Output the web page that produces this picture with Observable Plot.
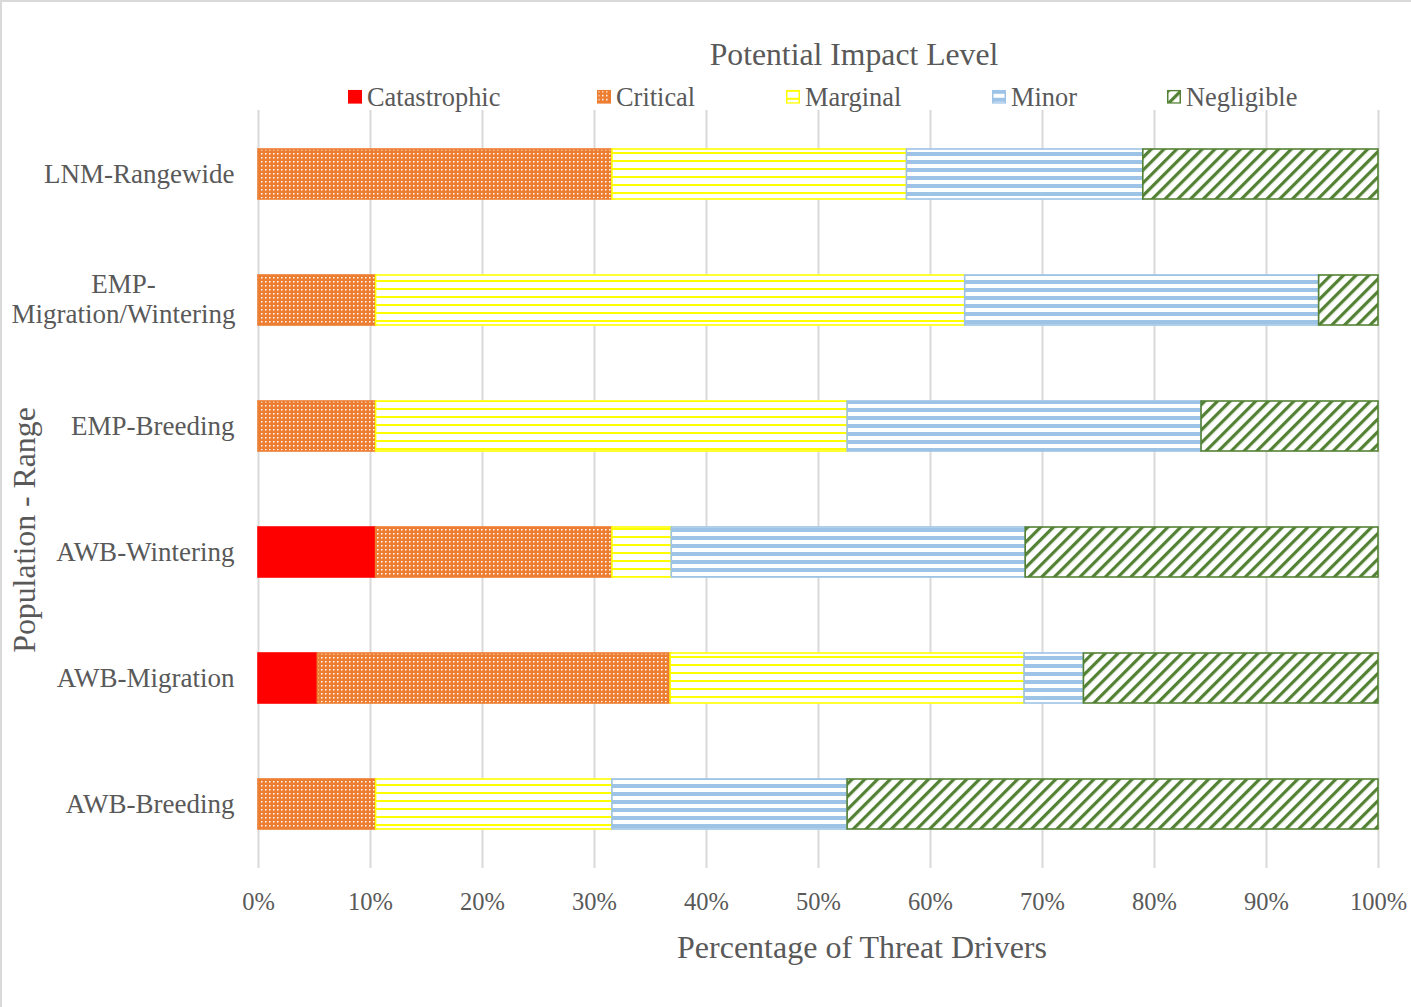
<!DOCTYPE html>
<html>
<head>
<meta charset="utf-8">
<script src="https://cdn.jsdelivr.net/npm/d3@7"></script>
<script src="https://cdn.jsdelivr.net/npm/@observablehq/plot@0.6"></script>
<style>
  html, body { margin: 0; padding: 0; background: #fff; }
  #page { position: relative; width: 1411px; height: 1007px; overflow: hidden; background: #fff;
          font-family: "Liberation Serif", "Times New Roman", serif; color: #595959; }
  #frame { position: absolute; left: 0; top: 0; width: 1411px; height: 1007px; box-sizing: border-box;
           border-left: 2px solid #d9d9d9; border-top: 2px solid #d9d9d9; pointer-events: none; }
  .lbl { position: absolute; white-space: nowrap; line-height: 1; transform: translate(-50%, -50%); }
  .leg { position: absolute; white-space: nowrap; line-height: 1; font-size: 26.4px; transform: translateY(-50%); display: flex; align-items: center; }
  .leg svg { margin-right: 5px; display: block; }
</style>
</head>
<body>
<svg width="0" height="0" style="position:absolute">
  <defs>
    <pattern id="pat-critical" patternUnits="userSpaceOnUse" width="4" height="4">
      <rect width="4" height="4" fill="#ED7D31"/>
      <rect x="1" y="1" width="1.5" height="1.5" fill="#ffffff"/>
    </pattern>
    <pattern id="pat-marginal" patternUnits="userSpaceOnUse" width="8" height="8">
      <rect width="8" height="8" fill="#ffffff"/>
      <rect y="0" width="8" height="2" fill="#FFFF00"/>
    </pattern>
    <pattern id="pat-minor" patternUnits="userSpaceOnUse" width="8" height="8">
      <rect width="8" height="8" fill="#ffffff"/>
      <rect y="0" width="8" height="4" fill="#9DC3E6"/>
    </pattern>
    <pattern id="pat-negligible" patternUnits="userSpaceOnUse" width="9" height="9" patternTransform="rotate(45)">
      <rect width="9" height="9" fill="#ffffff"/>
      <rect x="0" width="3.2" height="9" fill="#548235"/>
    </pattern>
  </defs>
</svg>
<div id="page">
  <div id="chart"></div>
  <div class="lbl" style="left:854px; top:55px; font-size:31.7px;">Potential Impact Level</div>
  <div id="legend"></div>
  <div class="lbl" style="left:862px; top:947px; font-size:32px;">Percentage of Threat Drivers</div>
  <div class="lbl" style="left:25px; top:530px; font-size:31.8px; transform: translate(-50%, -50%) rotate(-90deg);">Population - Range</div>
  <div id="frame"></div>
</div>
<script>
// ---- data ----
const ranges = ["LNM-Rangewide", "EMP-Migration/Wintering", "EMP-Breeding", "AWB-Wintering", "AWB-Migration", "AWB-Breeding"];
const levels = ["Catastrophic", "Critical", "Marginal", "Minor", "Negligible"];
const catastrophic = [0, 0, 0, 10.5, 5.3, 0];
const critical     = [31.6, 10.5, 10.5, 21.1, 31.5, 10.5];
const marginal     = [26.3, 52.6, 42.1, 5.3, 31.6, 21.1];
const minor        = [21.1, 31.6, 31.6, 31.6, 5.3, 21.0];
const negligible   = [21.0, 5.3, 15.8, 31.5, 26.3, 47.4];
const xTicks = [0, 10, 20, 30, 40, 50, 60, 70, 80, 90, 100];

// ---- styles ----
const fills = {
  Catastrophic: "#FF0000",
  Critical: "url(#pat-critical)",
  Marginal: "url(#pat-marginal)",
  Minor: "url(#pat-minor)",
  Negligible: "url(#pat-negligible)"
};
const strokes = {
  Catastrophic: "#FF0000",
  Critical: "#ED7D31",
  Marginal: "#FFFF00",
  Minor: "#9DC3E6",
  Negligible: "#548235"
};

const series = {Catastrophic: catastrophic, Critical: critical, Marginal: marginal, Minor: minor, Negligible: negligible};
const table = [];
ranges.forEach((r, i) => {
  levels.forEach(l => {
    const v = series[l][i];
    if (v > 0) table.push({range: r, level: l, value: v});
  });
});

const multiLine = "EMP-Migration/Wintering";

const chart = Plot.plot({
  width: 1411,
  height: 1007,
  marginLeft: 258,
  marginRight: 33,
  marginTop: 110,
  marginBottom: 139,
  style: {fontFamily: "Liberation Serif, Times New Roman, serif", color: "#595959", background: "transparent"},
  x: {domain: [0, 100]},
  y: {domain: ranges, paddingInner: 0.6, paddingOuter: 0.3},
  color: {type: "identity"},
  marks: [
    Plot.gridX(xTicks, {stroke: "#d9d9d9", strokeOpacity: 1, strokeWidth: 2}),
    Plot.barX(table, Plot.stackX({
      x: "value",
      y: "range",
      z: "level",
      fill: d => fills[d.level],
      stroke: d => strokes[d.level],
      strokeWidth: 1.6,
      inset: 0
    })),
    Plot.axisX({ticks: xTicks, tickFormat: d => d + "%", tickSize: 0, tickPadding: 24, fontSize: 24.5, label: null}),
    Plot.axisY({tickSize: 0, tickPadding: 24, fontSize: 27, label: null,
      tickFormat: d => d === multiLine ? "" : d}),
    Plot.text([multiLine], {
      y: d => d,
      text: d => "EMP-\nMigration/Wintering",
      frameAnchor: "left",
      textAnchor: "middle",
      lineAnchor: "middle",
      lineHeight: 1.12,
      dx: -135,
      dy: -2,
      fontSize: 27,
      fill: "currentColor"
    })
  ]
});
document.getElementById("chart").appendChild(chart);

// ---- legend ----
const legendPos = {Catastrophic: 348, Critical: 597, Marginal: 786, Minor: 992, Negligible: 1167};
const legend = document.getElementById("legend");
levels.forEach(l => {
  const item = document.createElement("div");
  item.className = "leg";
  item.style.left = legendPos[l] + "px";
  item.style.top = "97px";
  item.innerHTML = `<svg width="14" height="14"><rect x="0.75" y="0.75" width="12.5" height="12.5" fill="${fills[l]}" stroke="${strokes[l]}" stroke-width="1.5"/></svg><span>${l}</span>`;
  legend.appendChild(item);
});
</script>
</body>
</html>
